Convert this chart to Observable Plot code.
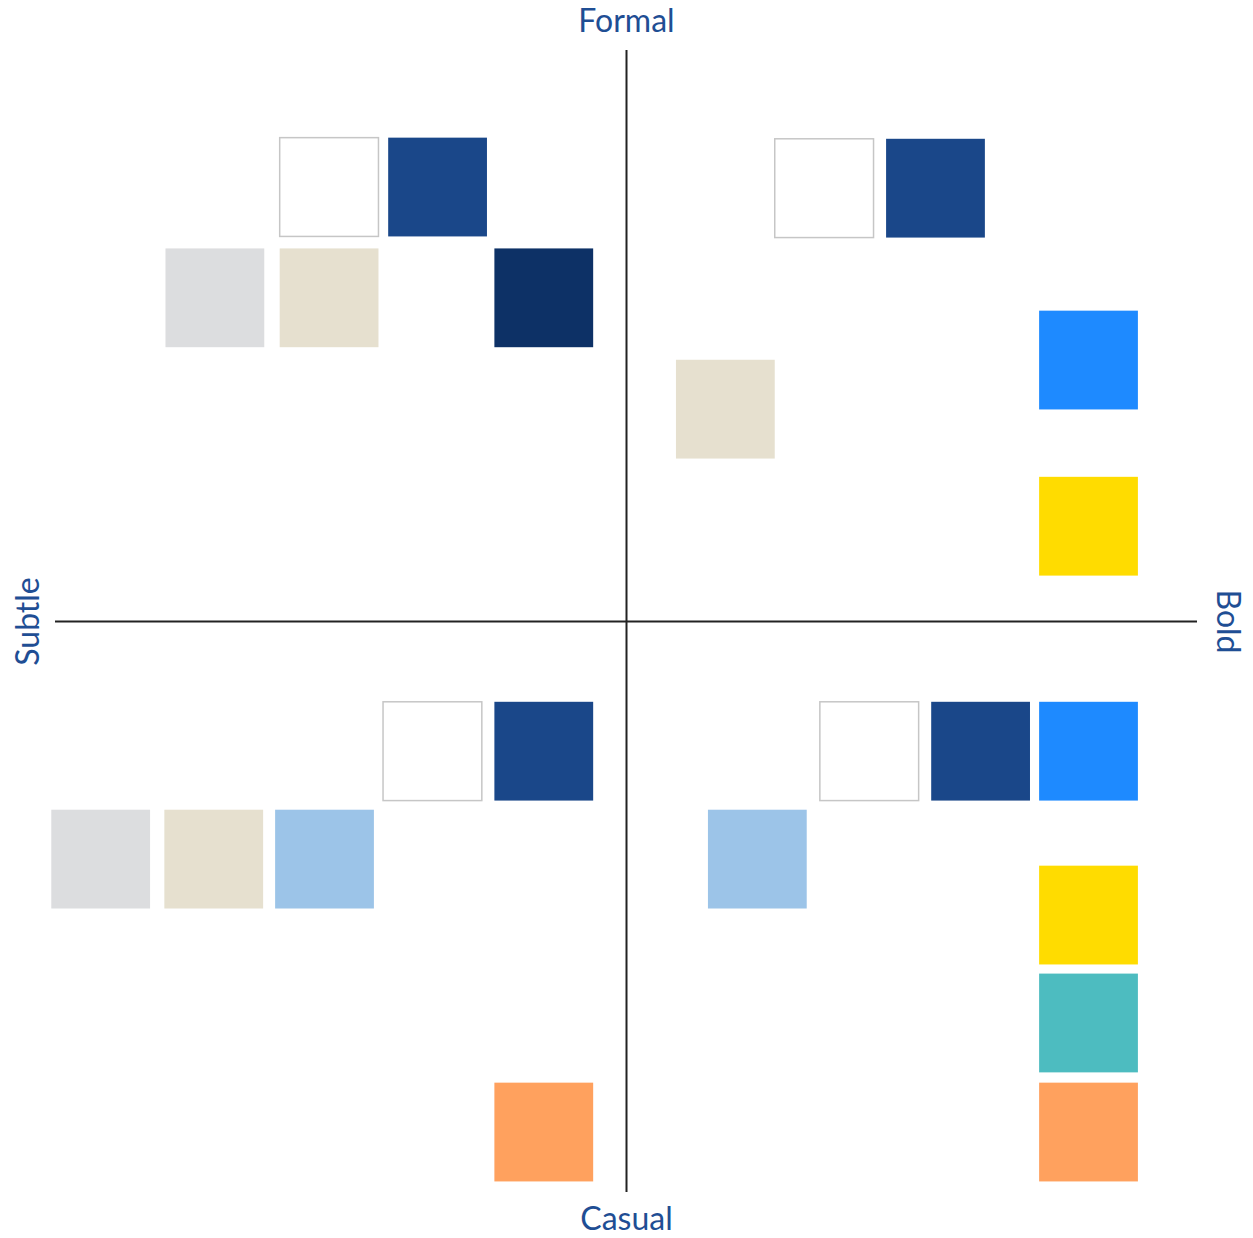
<!DOCTYPE html>
<html>
<head>
<meta charset="utf-8">
<script src="https://cdn.jsdelivr.net/npm/d3@7"></script>
<script src="https://cdn.jsdelivr.net/npm/@observablehq/plot@0.6"></script>
<style>
  html, body { margin: 0; padding: 0; background: #fff; }
  #chart svg { display: block; }
</style>
</head>
<body>
<div id="chart"></div>
<script>
// Swatch categories (colour names) and their positions on the Subtle–Bold (x) / Casual–Formal (y) map
const swatches = ["White","Dark blue","Light grey","Beige","Navy",
                  "White","Dark blue","Bright blue","Beige","Yellow",
                  "White","Dark blue","Light grey","Beige","Light blue","Orange",
                  "White","Dark blue","Bright blue","Light blue","Yellow","Teal","Orange"];
const boldness = [-5.2,-3.3,-7.2,-5.2,-1.44,
                  3.47,5.42,8.1,1.74,8.1,
                  -3.39,-1.44,-9.2,-7.22,-5.28,-1.44,
                  4.26,6.21,8.1,2.3,8.1,8.1,8.1];
const formality = [7.6,7.6,5.66,5.66,5.66,
                   7.58,7.58,4.57,3.71,1.66,
                   -2.28,-2.28,-4.17,-4.17,-4.17,-8.95,
                   -2.28,-2.28,-2.28,-4.17,-5.15,-7.04,-8.95];
const swatchSize = 1.73;
const colorNames = ["White","Dark blue","Navy","Light grey","Beige","Bright blue","Yellow","Light blue","Teal","Orange"];
const colorValues = ["#ffffff","#1a4789","#0d3166","#dcdddf","#e6e0cf","#1e8aff","#ffdc00","#9cc4e8","#4dbcc0","#ffa15e"];
const axisLabels = ["Formal","Casual","Subtle","Bold"];

const data = swatches.map((s, i) => ({name: s, x: boldness[i], y: formality[i]}));
const h = swatchSize / 2;

const textColor = "#1f4e94";
const font = "Lato, 'Open Sans', sans-serif";

const chart = Plot.plot({
  width: 1253,
  height: 1238,
  marginLeft: 55,
  marginRight: 56,
  marginTop: 50,
  marginBottom: 46,
  x: {domain: [-10, 10], axis: null},
  y: {domain: [-10, 10], axis: null},
  color: {domain: colorNames, range: colorValues},
  style: {fontFamily: font, background: "#fff"},
  marks: [
    Plot.ruleX([0], {y1: -10, y2: 10, stroke: "#222", strokeWidth: 2}),
    Plot.ruleY([0], {x1: -10, x2: 10, stroke: "#222", strokeWidth: 2}),
    Plot.rect(data, {
      x1: d => d.x - h, x2: d => d.x + h,
      y1: d => d.y - h, y2: d => d.y + h,
      fill: "name",
      stroke: d => d.name === "White" ? "#c6c6c6" : "none",
      strokeWidth: 1.5
    }),
    Plot.text([axisLabels[0]], {x: 0, y: 10, dy: -29, text: d => d, fill: textColor, fontSize: 32}),
    Plot.text([axisLabels[1]], {x: 0, y: -10, dy: 27, text: d => d, fill: textColor, fontSize: 32}),
    Plot.text([axisLabels[2]], {x: -10, y: 0, dx: -27, text: d => d, rotate: -90, fill: textColor, fontSize: 32}),
    Plot.text([axisLabels[3]], {x: 10, y: 0, dx: 30, text: d => d, rotate: 90, fill: textColor, fontSize: 32})
  ]
});
document.getElementById("chart").appendChild(chart);
</script>
</body>
</html>
